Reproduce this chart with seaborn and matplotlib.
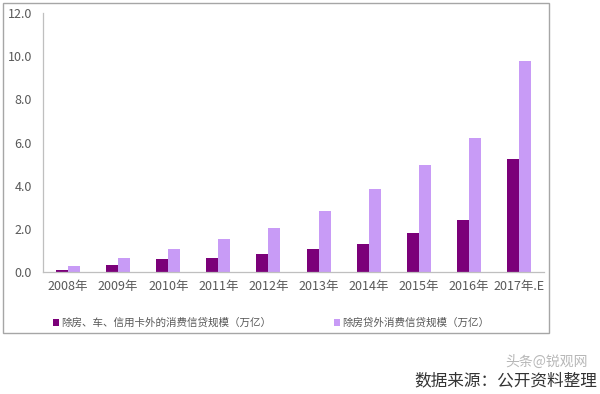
import matplotlib
matplotlib.use("Agg")
import matplotlib.pyplot as plt
import seaborn as sns
import pandas as pd
from matplotlib.patches import Rectangle
from matplotlib.ticker import FixedLocator, FormatStrFormatter

years = ["2008年", "2009年", "2010年", "2011年", "2012年", "2013年", "2014年", "2015年", "2016年", "2017年.E"]
series_a_name = "除房、车、信用卡外的消费信贷规模（万亿）"
series_b_name = "除房贷外消费信贷规模（万亿）"
series_a = [0.10, 0.33, 0.60, 0.65, 0.82, 1.04, 1.28, 1.80, 2.40, 5.25]
series_b = [0.28, 0.65, 1.04, 1.53, 2.03, 2.83, 3.84, 4.95, 6.22, 9.78]
yticks = [0.0, 2.0, 4.0, 6.0, 8.0, 10.0, 12.0]

sns.set_theme(style="white")
plt.rcParams['font.family'] = ['Noto Sans CJK SC', 'DejaVu Sans']

df = pd.DataFrame({
    "year": years * 2,
    "value": series_a + series_b,
    "series": [series_a_name] * len(years) + [series_b_name] * len(years),
})

fig = plt.figure(figsize=(6.0, 3.94), dpi=100)
ax = fig.add_axes([43/600, 1-271.7/394, (544-43)/600, (271.7-13.3)/394])

palette = {series_a_name: "#7B0079", series_b_name: "#C89BF6"}
sns.barplot(data=df, x="year", y="value", hue="series", palette=palette,
            width=0.48, saturation=1, ax=ax, legend=True, edgecolor="none")

ax.set_xlim(-0.5, len(years) - 0.5)
ax.set_ylim(0, 12)
ax.set_xlabel("")
ax.set_ylabel("")
ax.yaxis.set_major_locator(FixedLocator(yticks))
ax.yaxis.set_major_formatter(FormatStrFormatter("%.1f"))
ax.tick_params(axis="y", length=0, labelsize=9, labelcolor="#595959", pad=8)
ax.tick_params(axis="x", which="major", length=0, labelsize=9, labelcolor="#595959", pad=6)
ax.xaxis.set_minor_locator(FixedLocator([i - 0.5 for i in range(len(years) + 1)]))
ax.tick_params(axis="x", which="minor", length=3, color="#BFBFBF", width=0.8, direction="out")
for s in ["top", "right"]:
    ax.spines[s].set_visible(False)
for s in ["left", "bottom"]:
    ax.spines[s].set_color("#BFBFBF")
    ax.spines[s].set_linewidth(0.9)

handles, labels = ax.get_legend_handles_labels()
ax.get_legend().remove()
leg = fig.legend(handles, labels, loc="center left", bbox_to_anchor=(53/600, 1-323/394),
                 ncol=2, frameon=False, fontsize=7.6, handlelength=0.55, handleheight=0.55,
                 handletextpad=0.25, columnspacing=5.9, borderaxespad=0, borderpad=0)
for t in leg.get_texts():
    t.set_color("#595959")

fig.patches.append(Rectangle((2.5/600, 1-333/394), (549-2.5)/600, (333-2.5)/394,
                             transform=fig.transFigure, fill=False,
                             edgecolor="#A6A6A6", linewidth=1.0))

fig.text(597/600, 1-381/394, "数据来源：公开资料整理", ha="right", va="center",
         fontsize=12, color="#333333")
fig.text(588/600, 1-362/394, "头条@锐观网", ha="right", va="center",
         fontsize=10, color="#888888", alpha=0.6)

fig.savefig("out.png", dpi=100)
